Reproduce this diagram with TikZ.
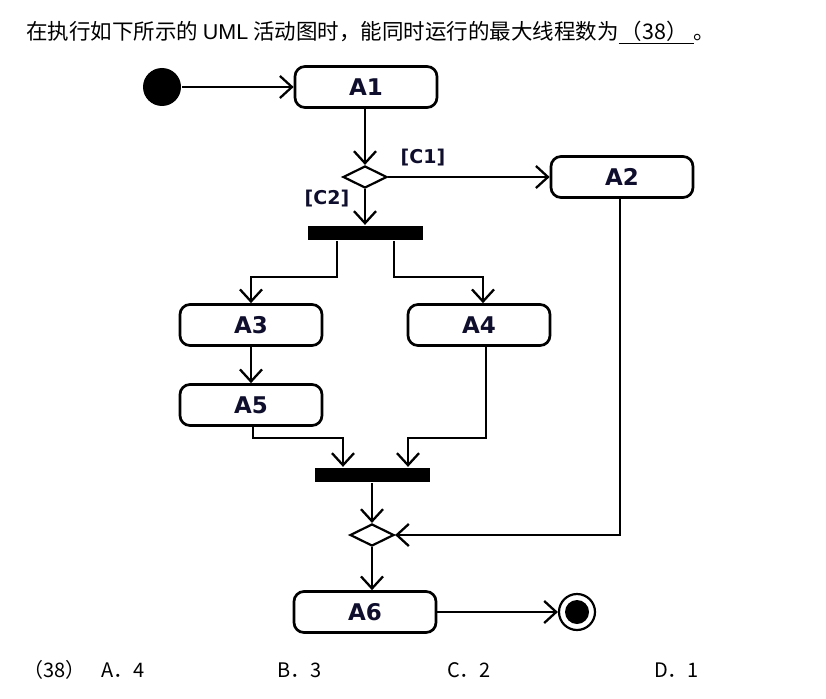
\documentclass[tikz,border=0pt]{standalone}
\usepackage{fontspec}
\setmainfont{Liberation Sans}
\newfontfamily\cjk{Noto Sans CJK SC}
\newfontfamily\lblfont{DejaVu Sans}
\usetikzlibrary{arrows.meta,shapes.geometric,calc}
\definecolor{lbl}{RGB}{15,15,45}
\begin{document}
\begin{tikzpicture}[x=1pt,y=-1pt,
  line width=2.3pt,
  >={Straight Barb[length=12pt,width=22pt]},
  act/.style={draw,line width=2.7pt,rounded corners=10pt,minimum width=142pt,minimum height=41pt,inner sep=0pt,
    font=\lblfont\bfseries\fontsize{23}{26}\selectfont,text=lbl},
  bar/.style={fill=black,draw=none,minimum width=115pt,minimum height=14pt,inner sep=0pt},
  decide/.style={diamond,draw,fill=white,minimum width=44pt,minimum height=22pt,inner sep=0pt,line width=2.2pt},
  guard/.style={font=\lblfont\bfseries\fontsize{19}{22}\selectfont,text=lbl},
  hdr/.style={font=\cjk\fontsize{21.5}{26}\selectfont,anchor=base west,inner sep=0pt},
  opt/.style={font=\cjk\fontsize{20}{24}\selectfont,anchor=base west,inner sep=0pt}]
\useasboundingbox (0,0) rectangle (826,698);
\fill[white] (0,0) rectangle (826,698);

% header
\node[hdr] (title) at (25,40) {在执行如下所示的 {\fontspec{Liberation Sans}UML} 活动图时，能同时运行的最大线程数为\underline{\hspace{2pt}（38）\hspace{6pt}}。};

% nodes
\node[circle,fill=black,minimum size=38pt,inner sep=0pt] (init) at (162,87) {};
\node[act] (A1) at (366,87) {A1};
\node[decide] (d1) at (365,177) {};
\node[act] (A2) at (622,177) {A2};
\node[bar] (fork) at (365,233) {};
\node[act] (A3) at (251,325) {A3};
\node[act] (A4) at (479,325) {A4};
\node[act] (A5) at (251,405) {A5};
\node[bar] (join) at (372,475) {};
\node[decide] (d2) at (372,535) {};
\node[act] (A6) at (365,612) {A6};
\node[circle,draw,fill=white,line width=2.2pt,minimum size=36pt,inner sep=0pt] (final) at (577,612) {};
\node[circle,fill=black,minimum size=24pt,inner sep=0pt] (finalin) at (final.center) {};

\node[guard] (c1) at (423,158) {[C1]};
\node[guard] (c2) at (327,199) {[C2]};

% connectors
\draw[->] (init) -- (A1);
\draw[->] (A1.south -| d1.north) -- (d1.north);
\draw[->] (d1.east) -- (A2.west);
\draw[->] (d1.south) -- (fork.north);
\draw[->] ([xshift=-28pt]fork.south) -- ++(0,36) -| (A3.north);
\draw[->] ([xshift=29pt]fork.south) -- ++(0,36) -| ([xshift=4pt]A4.north);
\draw[->] (A3) -- (A5);
\draw[->] ([xshift=2pt]A5.south) -- ++(0,11) -| ([xshift=-29pt]join.north);
\draw[->] ([xshift=7pt]A4.south) -- ++(0,91) -| ([xshift=36pt]join.north);
\draw[->] (join.south) -- (d2.north);
\draw[->] ([xshift=-2pt]A2.south) |- (d2.east);
\draw[->] (d2.south) -- (d2.south |- A6.north);
\draw[->] (A6.east) -- (final.west);

% options
\node[opt] (q) at (22,677) {（38）};
\node[opt] (oa) at (100,677) {A．4};
\node[opt] (ob) at (276,677) {B．3};
\node[opt] (oc) at (446,677) {C．2};
\node[opt] (od) at (653,677) {D．1};
\end{tikzpicture}
\end{document}
